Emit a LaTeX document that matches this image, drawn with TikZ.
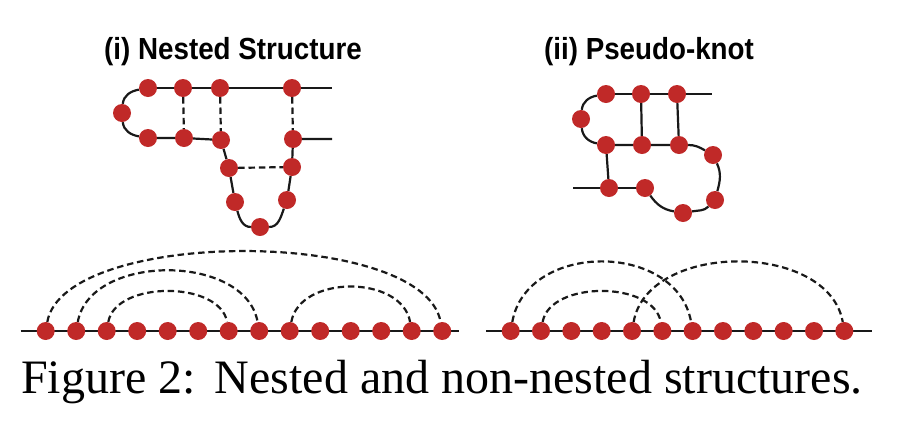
\documentclass[tikz,border=0pt]{standalone}
\usepackage{fontspec}
\setmainfont{Liberation Serif}
\newfontfamily\titlefont{Liberation Sans}
\usetikzlibrary{backgrounds}
\definecolor{dotred}{RGB}{192,41,40}
\tikzset{
  dot/.style={circle,fill=dotred,draw=none,inner sep=0pt,minimum size=18pt},
  strand/.style={line width=2.2pt,black!90},
  pair/.style={line width=2.2pt,black!90,dash pattern=on 6.5pt off 3.8pt},
  title/.style={anchor=base,font=\titlefont\bfseries\fontsize{30.5}{36}\selectfont},
}
\begin{document}
\begin{tikzpicture}[x=1pt,y=-1pt]
\useasboundingbox (0,0) rectangle (899,429);
% titles
\node[title] (tA) at (233,59) {\scalebox{0.91}[1]{(i) Nested Structure}};
\node[title] (tB) at (649,59) {\scalebox{0.91}[1]{(ii) Pseudo-knot}};
% (i) nested structure
\node[dot] (t1) at (148,88) {};
\node[dot] (t2) at (183,88) {};
\node[dot] (t3) at (220,88) {};
\node[dot] (t4) at (292,88) {};
\coordinate (e1) at (332,88);
\node[dot] (l) at (122,113) {};
\node[dot] (b1) at (148,138) {};
\node[dot] (b2) at (184,138) {};
\node[dot] (b3) at (221,140) {};
\node[dot] (b4) at (293,139) {};
\coordinate (e2) at (332,139);
\node[dot] (c1) at (229,168) {};
\node[dot] (c2) at (292,167) {};
\node[dot] (d1) at (235,202) {};
\node[dot] (d2) at (287,200) {};
\node[dot] (bot) at (260,227) {};
% (ii) pseudo-knot
\node[dot] (p1) at (606,94) {};
\node[dot] (p2) at (641,94) {};
\node[dot] (p3) at (677,94) {};
\coordinate (e3) at (712,94);
\node[dot] (pl) at (581,119) {};
\node[dot] (m1) at (606,145) {};
\node[dot] (m2) at (642,145) {};
\node[dot] (m3) at (679,145) {};
\node[dot] (r1) at (713,155) {};
\node[dot] (r2) at (715,200) {};
\node[dot] (q) at (683,213) {};
\node[dot] (s1) at (609,188) {};
\node[dot] (s2) at (645,188) {};
\coordinate (e4) at (573,188);
% linear chains
\coordinate (la) at (20.7,331);
\coordinate (lb) at (459.3,331);
\foreach \i in {1,...,14} {
  \node[dot] (n\i) at ({45.7+30.5*(\i-1)},331) {};
}
\coordinate (ra) at (486,331);
\coordinate (rb) at (871.7,331);
\foreach \i in {1,...,12} {
  \node[dot] (k\i) at ({510.7+30.33*(\i-1)},331) {};
}
% caption
\node[anchor=base west,font=\fontsize{48}{56}\selectfont,inner sep=0pt] (cap) at (21,393)
  {Figure 2:\hspace{3pt} Nested and non-nested structures.};
\begin{scope}[on background layer]
  % nested
  \draw[strand] (t1) -- (t2) -- (t3) -- (t4) -- (e1);
  \draw[strand] (t1) to[out=190,in=85] (l) to[out=-85,in=170] (b1);
  \draw[strand] (b1) -- (b2) -- (b3) -- (c1) -- (d1)
     to[out=-75,in=180] (bot) to[out=0,in=-110] (d2) -- (c2) -- (b4) -- (e2);
  \draw[pair] (t2) -- (b2);
  \draw[pair] (t3) -- (b3);
  \draw[pair] (t4) -- (b4);
  \draw[pair] (c1) -- (c2);
  % pseudo-knot
  \draw[strand] (p1) -- (p2) -- (p3) -- (e3);
  \draw[strand] (p1) to[out=190,in=85] (pl) to[out=-85,in=170] (m1);
  \draw[strand] (m1) -- (m2) -- (m3) to[out=0,in=150] (r1)
     to[out=-65,in=75] (r2) to[out=-135,in=10] (q) to[out=170,in=-55] (s2);
  \draw[strand] (p2) -- (m2);
  \draw[strand] (p3) -- (m3);
  \draw[strand] (m1) -- (s1);
  \draw[strand] (e4) -- (s1) -- (s2);
  % linear left
  \draw[strand] (la) -- (lb);
  \draw[pair] (n1) to[out=80,in=100,distance=96pt] (n14);
  \draw[pair] (n2) to[out=80,in=100,distance=70pt] (n8);
  \draw[pair] (n3) to[out=80,in=100,distance=42pt] (n7);
  \draw[pair] (n9) to[out=80,in=100,distance=48pt] (n13);
  % linear right
  \draw[strand] (ra) -- (rb);
  \draw[pair] (k1) to[out=80,in=100,distance=82pt] (k7);
  \draw[pair] (k2) to[out=80,in=100,distance=42pt] (k6);
  \draw[pair] (k5) to[out=80,in=100,distance=82pt] (k12);
\end{scope}
\end{tikzpicture}
\end{document}
